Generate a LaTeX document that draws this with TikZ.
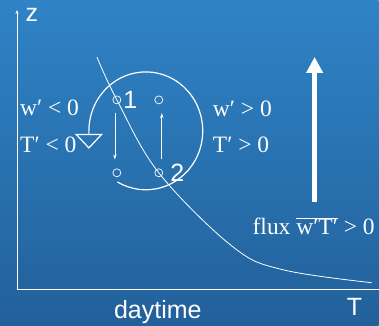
\documentclass[tikz,border=0pt]{standalone}
\usepackage{fontspec}
\setmainfont{Liberation Serif}
\setsansfont{Liberation Sans}
\usepackage{tikz}
\usetikzlibrary{arrows.meta,positioning,calc}
\definecolor{skytop}{RGB}{47,131,198}
\definecolor{skybot}{RGB}{34,96,154}

\begin{document}
\begin{tikzpicture}[
    x=1pt, y=1pt,
    lbl/.style={text=white, font=\sffamily\fontsize{25}{27}\selectfont, inner sep=0pt},
    cond/.style={text=white, font=\fontsize{23.5}{25}\selectfont, inner sep=0pt, anchor=base west},
    parcel/.style={draw=white, circle, minimum size=8pt, inner sep=0pt, line width=0.7pt},
    motion/.style={draw=white, line width=0.7pt, -{Stealth[length=5pt,width=3.5pt]},
                   shorten <=9pt, shorten >=9pt},
    axis/.style={draw=white, line width=0.9pt},
    eddy/.style={draw=white, line width=1.2pt, -{Triangle[open, length=15pt, width=28pt]}},
    flux/.style={draw=white, line width=5pt, -{Triangle[length=16pt, width=16pt]}}
]
\shade[top color=skytop, bottom color=skybot] (0,0) rectangle (379,326);

% axes
\coordinate (origin) at (17,36);
\coordinate (ztop) at (17,316);
\coordinate (tend) at (379,36);
\draw[axis, -{Stealth[length=4pt,width=3pt]}] (origin) -- (ztop);
\draw[axis] (origin) -- (tend);
\node[lbl] (zlab) at (32,311.5) {z};
\node[lbl] (tlab) at (355,19) {T};
\node[lbl, anchor=base] (day) at (158,7) {daytime};

% temperature profile
\draw[white, line width=0.8pt] plot[smooth, tension=0.6]
    coordinates {(97,269) (117,226) (159,153) (233,79) (283,56) (372,43)};

% eddy
\coordinate (eddyc) at (146,195);
\draw[eddy] ($(eddyc)+(-120:57 and 59)$)
    arc[start angle=-120, end angle=180, x radius=57, y radius=59] -- ++(0,-18);

\node[parcel] (p1) at (117,226) {};
\node[parcel] (p2) at (159,226) {};
\node[parcel] (p3) at (117,153) {};
\node[parcel] (p4) at (159,153) {};
\node[lbl, right=2pt of p1] (n1) {1};
\node[lbl, right=7pt of p4] (n2) {2};

\draw[motion] ([xshift=-2pt]p1.south) -- ([xshift=-2pt]p3.north);
\draw[motion] ([xshift=3pt]p4.north) -- ([xshift=3pt]p2.south);

\node[cond] (wneg) at (20,210) {w′ < 0};
\node[cond] (tneg) at (20,173) {T′ < 0};
\node[cond] (wpos) at (213,209) {w′ > 0};
\node[cond] (tpos) at (213,173) {T′ > 0};

% upward heat flux
\coordinate (fluxbase) at (315,124);
\coordinate (fluxtop) at (315,269);
\draw[flux] (fluxbase) -- (fluxtop);
\node[cond, anchor=base] (fluxlab) at (314,91) {flux $\overline{\hbox{w′T′}}$ > 0};
\end{tikzpicture}
\end{document}
